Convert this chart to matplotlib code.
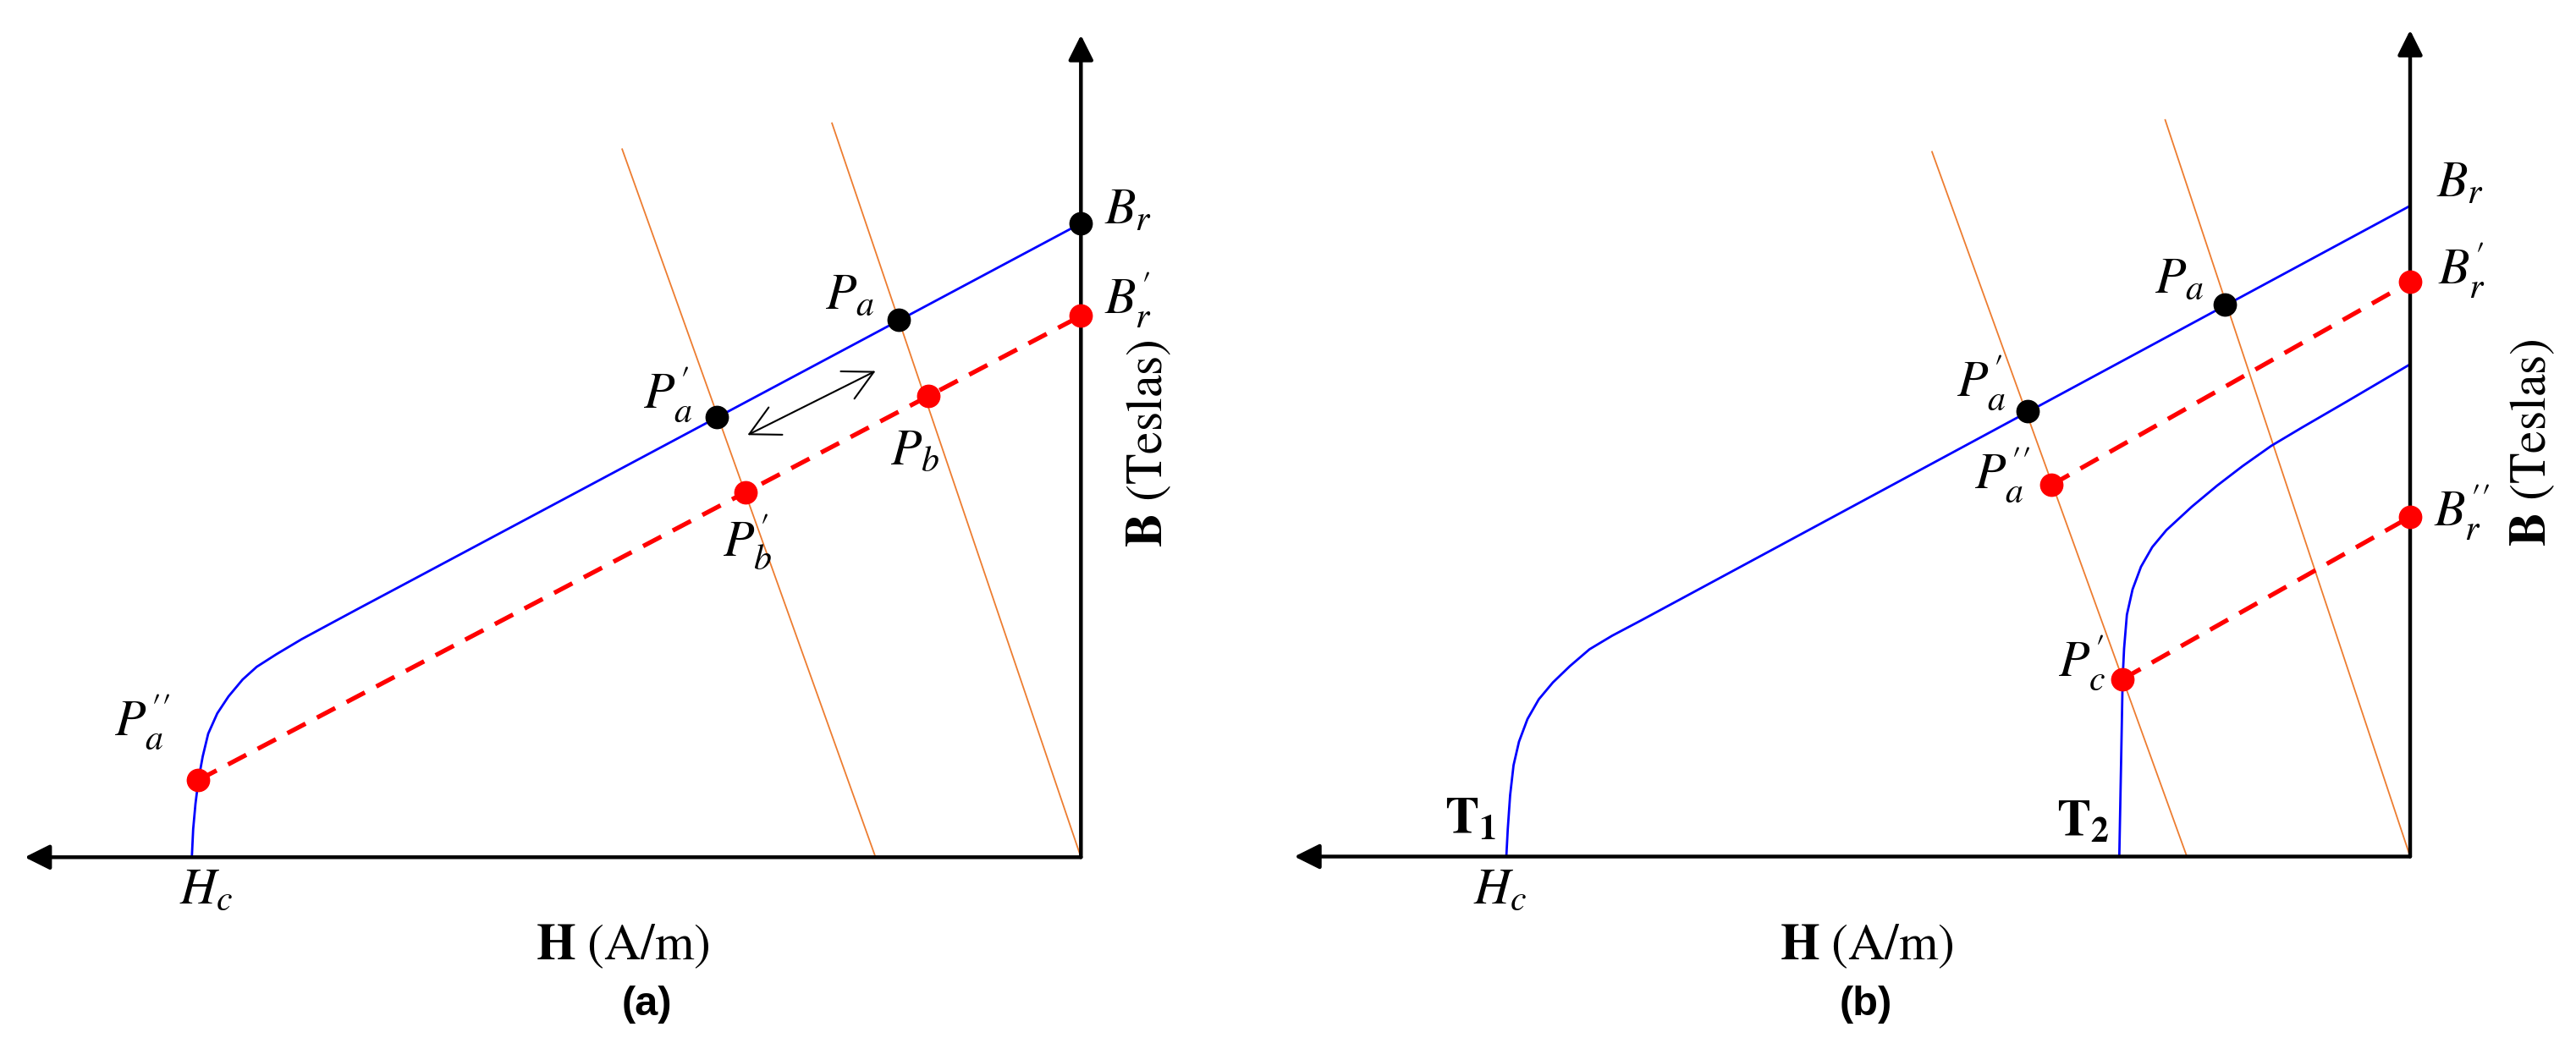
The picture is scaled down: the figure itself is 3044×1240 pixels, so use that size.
import matplotlib
matplotlib.use('Agg')
import matplotlib.pyplot as plt

plt.rcParams['mathtext.fontset'] = 'stix'
plt.rcParams['font.family'] = ['STIXGeneral', 'DejaVu Serif']

# ---------------- data (H normalised to |Hc|, B normalised to Br) ----------------
# Panel (a)
a_bh_H = [-1.000, -0.9985, -0.9959, -0.9926, -0.9878, -0.9816, -0.9714, -0.9588, -0.9429,
          -0.9271, -0.9048, -0.8763, -0.8446, -0.8113, -0.7684, 0.000]
a_bh_B = [0.000, 0.0444, 0.0845, 0.1218, 0.1588, 0.1949, 0.2269, 0.2536, 0.2803,
          0.3003, 0.3203, 0.3441, 0.3681, 0.3932, 0.4252, 1.000]
a_recoil_H = [-0.9926, 0.000]
a_recoil_B = [0.1218, 0.854]
a_load_H = [[-0.231, -0.516], [0.000, -0.280]]
a_load_B = [[0.000, 1.117], [0.000, 1.158]]
a_black_H = [0.000, -0.205, -0.410]
a_black_B = [1.000, 0.848, 0.695]
a_red_H = [0.000, -0.172, -0.377, -0.9926]
a_red_B = [0.854, 0.728, 0.575, 0.1218]
a_arrow_H = [-0.375, -0.231]
a_arrow_B = [0.666, 0.767]
a_axis_tip = (-1.188, 1.297)

# Panel (b)
b_t1_H = [-1.000, -0.9984, -0.9958, -0.9920, -0.9860, -0.9766, -0.9641, -0.9485, -0.9298,
          -0.9080, -0.8830, -0.8502, 0.000]
b_t1_B = [0.000, 0.0423, 0.0943, 0.1404, 0.1765, 0.2113, 0.2416, 0.2675, 0.2925,
          0.3185, 0.3393, 0.3634, 1.000]
b_t2_H = [-0.3218, -0.3196, -0.3181, -0.3165, -0.3134, -0.3071, -0.2978, -0.2853, -0.2697,
          -0.2416, -0.2135, -0.1854, -0.1536, -0.1199, -0.0699, 0.000]
b_t2_B = [0.000, 0.1595, 0.2727, 0.3196, 0.3716, 0.4106, 0.4453, 0.4756, 0.5016,
          0.5376, 0.5701, 0.6000, 0.6312, 0.6591, 0.6994, 0.7565]
b_recoil_H = [[-0.397, 0.000], [-0.3181, 0.000]]
b_recoil_B = [[0.571, 0.883], [0.2727, 0.522]]
b_load_H = [[-0.247, -0.529], [0.000, -0.271]]
b_load_B = [[0.000, 1.083], [0.000, 1.132]]
b_black_H = [-0.205, -0.423]
b_black_B = [0.848, 0.685]
b_red_H = [0.000, 0.000, -0.397, -0.3181]
b_red_B = [0.883, 0.522, 0.571, 0.2727]
b_axis_tip = (-1.2345, 1.270)

# ---------------- styling ----------------
W, HP, DPI = 3044, 1240, 100
BLUE, ORANGE, RED = '#0000FF', '#ED7D31', '#FF0000'
FS = 43
PT = 72.0 / DPI   # px -> points

fig = plt.figure(figsize=(W / DPI, HP / DPI), dpi=DPI)
fig.patch.set_facecolor('white')


def panel(x0, x1, ox, oy, hu, bu):
    ax = fig.add_axes([x0 / W, 0, (x1 - x0) / W, 1])
    ax.set_xlim((x0 - ox) / hu, (x1 - ox) / hu)
    ax.set_ylim((oy - HP) / bu, oy / bu)
    ax.set_axis_off()
    return ax


def axes_arrows(ax, tip):
    kw = dict(arrowstyle='-|>,head_length=0.9,head_width=0.45', lw=3.2,
              color='black', mutation_scale=20, shrinkA=0, shrinkB=0)
    ax.annotate('', xy=(tip[0], 0), xytext=(0, 0), arrowprops=kw, zorder=6)
    ax.annotate('', xy=(0, tip[1]), xytext=(0, 0), arrowprops=kw, zorder=6)


def lab(ax, s, xy, dx, dy, ha='left', **kw):
    ax.annotate(s, xy, xytext=(dx * PT, dy * PT), textcoords='offset points',
                ha=ha, va='baseline', fontsize=FS, zorder=10, **kw)


def dashed(ax, hs, bs):
    ax.plot(hs, bs, color=RED, lw=3.8, dashes=(4.6, 2.9), zorder=3)


def dots(ax, hs, bs, color):
    ax.plot(hs, bs, 'o', color=color, ms=19, mec=color, zorder=8, ls='none')


# ---------------- panel (a) ----------------
axa = panel(0, 1522, 1277.3, 1013.3, 1050.6, 749.3)
for hs, bs in zip(a_load_H, a_load_B):
    axa.plot(hs, bs, color=ORANGE, lw=1.3, zorder=2)
axa.plot(a_bh_H, a_bh_B, color=BLUE, lw=2.0, zorder=4, solid_joinstyle='round')
dashed(axa, a_recoil_H, a_recoil_B)
axes_arrows(axa, a_axis_tip)
dots(axa, a_black_H, a_black_B, 'black')
dots(axa, a_red_H, a_red_B, RED)
axa.annotate('', xy=(a_arrow_H[1], a_arrow_B[1]), xytext=(a_arrow_H[0], a_arrow_B[0]),
             arrowprops=dict(arrowstyle='<->,head_length=1.25,head_width=0.65', lw=1.5,
                             color='black', mutation_scale=20, shrinkA=0, shrinkB=0))

lab(axa, r'$B_r$', (a_black_H[0], a_black_B[0]), 28, -1)
lab(axa, r'$B_r^{\prime}$', (a_red_H[0], a_red_B[0]), 28, 2)
lab(axa, r'$P_a$', (a_black_H[1], a_black_B[1]), -29, 13, 'right')
lab(axa, r'$P_a^{\prime}$', (a_black_H[2], a_black_B[2]), -28, 10, 'right')
lab(axa, r'$P_b$', (a_red_H[1], a_red_B[1]), -45, -81)
lab(axa, r'$P_b^{\prime}$', (a_red_H[2], a_red_B[2]), -27, -74)
lab(axa, r'$P_a^{\prime\prime}$', (a_red_H[3], a_red_B[3]), -99, 52)
lab(axa, r'$H_c$', (a_bh_H[0], a_bh_B[0]), -15, -55)

# ---------------- panel (b) ----------------
axb = panel(1522, 3044, 2848.0, 1012.5, 1068.0, 769.2)
for hs, bs in zip(b_load_H, b_load_B):
    axb.plot(hs, bs, color=ORANGE, lw=1.3, zorder=2)
axb.plot(b_t1_H, b_t1_B, color=BLUE, lw=2.0, zorder=4, solid_joinstyle='round')
axb.plot(b_t2_H, b_t2_B, color=BLUE, lw=2.0, zorder=4, solid_joinstyle='round')
for hs, bs in zip(b_recoil_H, b_recoil_B):
    dashed(axb, hs, bs)
axes_arrows(axb, b_axis_tip)
dots(axb, b_black_H, b_black_B, 'black')
dots(axb, b_red_H, b_red_B, RED)

lab(axb, r'$B_r$', (b_t1_H[-1], b_t1_B[-1]), 31, 10)
lab(axb, r'$B_r^{\prime}$', (b_red_H[0], b_red_B[0]), 33, -4)
lab(axb, r'$B_r^{\prime\prime}$', (b_red_H[1], b_red_B[1]), 28, -12)
lab(axb, r'$P_a$', (b_black_H[0], b_black_B[0]), -25, 14, 'right')
lab(axb, r'$P_a^{\prime}$', (b_black_H[1], b_black_B[1]), -26, 17, 'right')
lab(axb, r'$P_a^{\prime\prime}$', (b_red_H[2], b_red_B[2]), -25, -5, 'right')
lab(axb, r'$P_c^{\prime}$', (b_red_H[3], b_red_B[3]), -20, 3, 'right')
lab(axb, r'$\mathbf{T_1}$', (b_t1_H[0], b_t1_B[0]), -12, 28, 'right')
lab(axb, r'$\mathbf{T_2}$', (b_t2_H[0], b_t2_B[0]), -12, 25, 'right')
lab(axb, r'$H_c$', (b_t1_H[0], b_t1_B[0]), -39, -55)

# ---------------- axis titles and panel captions ----------------
for cx in (736, 2206):
    fig.text(cx / W, 1 - 1134 / HP, r'$\mathbf{H}\ \mathrm{(A/m)}$', ha='center',
             va='baseline', fontsize=FS)
for cx, cy in ((1358, 524), (2993, 523)):
    fig.text(cx / W, 1 - cy / HP, r'$\mathbf{B}\ \mathrm{(Teslas)}$', ha='center',
             va='center', rotation=90, fontsize=FS)
for cx, s in ((764, '(a)'), (2205, '(b)')):
    fig.text(cx / W, 1 - 1188 / HP, s, ha='center', va='center', fontsize=35,
             fontweight='bold', family=['Liberation Sans', 'DejaVu Sans'])

fig.savefig('out.png', dpi=DPI, facecolor='white')
